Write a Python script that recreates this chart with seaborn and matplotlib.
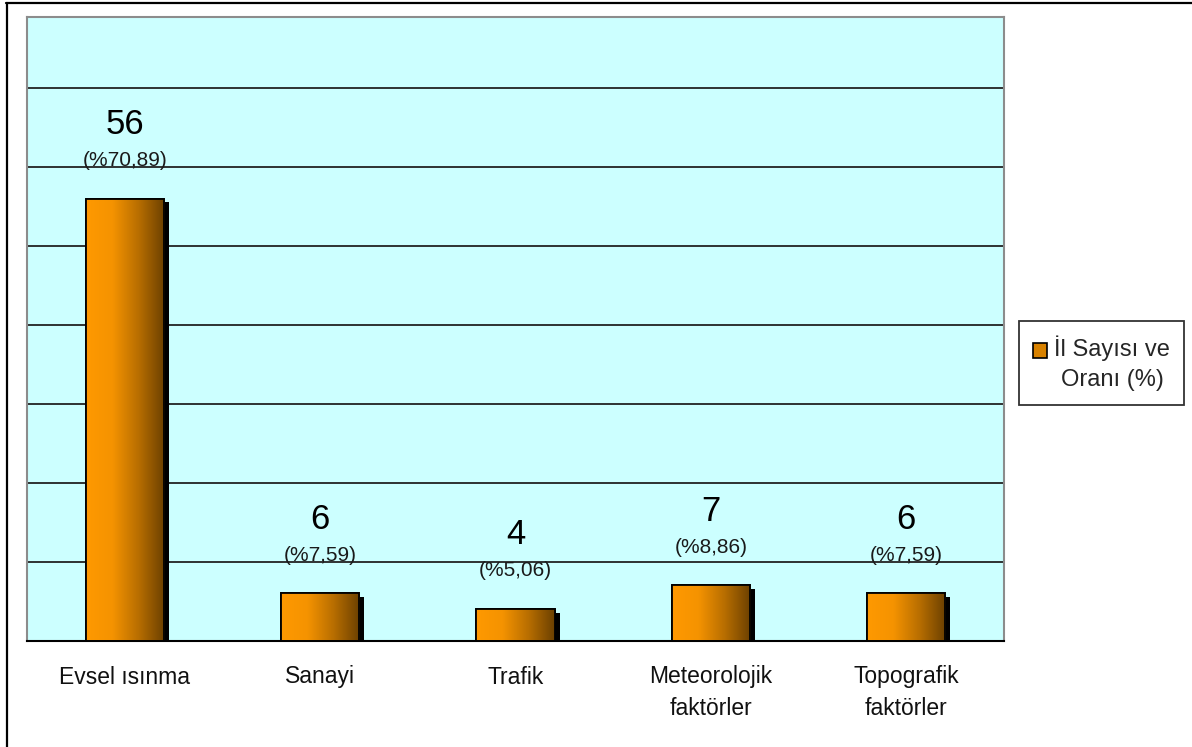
import numpy as np
import matplotlib
matplotlib.use("Agg")
import matplotlib.pyplot as plt
import matplotlib.patheffects as pe
from matplotlib.colors import LinearSegmentedColormap
from matplotlib.patches import Patch, Rectangle
from matplotlib.lines import Line2D
from matplotlib.legend_handler import HandlerPatch
import seaborn as sns

# data
categories = ["Evsel ısınma", "Sanayi", "Trafik", "Meteorolojik\nfaktörler", "Topografik\nfaktörler"]
counts = [56, 6, 4, 7, 6]
percents = [70.89, 7.59, 5.06, 8.86, 7.59]
legend_label = "İl Sayısı ve\nOranı (%)"

sns.set_style("white")
plt.rcParams["font.family"] = ["Liberation Sans", "DejaVu Sans"]

W, H = 1192, 747
fig = plt.figure(figsize=(W / 100, H / 100), dpi=100)
ax = fig.add_axes([27 / W, 1 - 640.5 / H, (1004 - 27) / W, (640.5 - 17) / H])

sns.barplot(x=categories, y=counts, color="#FF9900", width=0.4, ax=ax,
            edgecolor="black", linewidth=1.3, zorder=3)

ax.set_facecolor("#CCFFFF")

# gradient fill on each bar plus a hard black drop shadow
cmap = LinearSegmentedColormap.from_list("bar", ["#FF9900", "#F59300", "#B86E00", "#6B4000"])
grad = np.linspace(0, 1, 256).reshape(1, -1)
for p in ax.patches:
    p.set_path_effects([pe.SimplePatchShadow(offset=(3.6, -2.8), shadow_rgbFace="black", alpha=1.0),
                        pe.Normal()])
    x0, y0 = p.get_x(), p.get_y()
    x1, y1 = x0 + p.get_width(), y0 + p.get_height()
    im = ax.imshow(grad, extent=[x0, x1, y0, y1], aspect="auto", cmap=cmap, zorder=3.5)
    im.set_clip_path(p)
    ax.add_patch(Rectangle((x0, y0), p.get_width(), p.get_height(), fill=False,
                           edgecolor="black", linewidth=1.3, zorder=4))
ax.set_xlim(-0.5, 4.5)
ax.set_ylim(0, 79)

# value and percentage labels
for i, (c, pc) in enumerate(zip(counts, percents)):
    ax.annotate(str(c), xy=(i, c), xytext=(0, 46.5), textcoords="offset points",
                ha="center", va="baseline", fontsize=25, color="black", zorder=5)
    ax.annotate(("(%" + f"{pc:.2f}" + ")").replace(".", ","), xy=(i, c), xytext=(0, 23.5),
                textcoords="offset points", ha="center", va="baseline", fontsize=15,
                color="#1a1a1a", zorder=5)

# gridlines
ax.set_yticks(np.arange(0, 71, 10))
ax.set_yticklabels([])
ax.tick_params(axis="y", length=0)
ax.yaxis.grid(True, color="#222222", linewidth=1.3)
ax.set_axisbelow(True)

# category boundaries as ticks, labels in between
ax.set_xticks(np.arange(-0.5, 5, 1))
ax.set_xticklabels([])
ax.tick_params(axis="x", which="major", length=6.5, width=1.0, color="black", direction="out")
ax.set_xticks(range(len(categories)), minor=True)
ax.set_xticklabels(categories, minor=True, fontsize=16.5, color="#111111", linespacing=1.45)
ax.tick_params(axis="x", which="minor", length=0, pad=18)
ax.set_xlabel("")
ax.set_ylabel("")

for s in ["left", "top", "right"]:
    ax.spines[s].set_color("#8c8c8c")
    ax.spines[s].set_linewidth(1.5)
ax.spines["bottom"].set_color("black")
ax.spines["bottom"].set_linewidth(1.5)


# legend: swatch sits beside the first line of the label
def top_swatch(legend, orig_handle, xdescent, ydescent, width, height, fontsize):
    return Rectangle((-xdescent, -ydescent + 0.55 * fontsize), width, height)


handle = Patch(facecolor="#D98200", edgecolor="black", linewidth=1.2)
leg = fig.legend([handle], [legend_label], loc="center", bbox_to_anchor=(1101.5 / W, 1 - 363 / H),
                 fontsize=17, frameon=True, fancybox=False, handlelength=0.6, handleheight=0.6,
                 handletextpad=0.3, borderpad=0.6, borderaxespad=0,
                 handler_map={Patch: HandlerPatch(patch_func=top_swatch)})
leg.get_frame().set_edgecolor("black")
leg.get_frame().set_linewidth(1.3)
leg.get_texts()[0].set_multialignment("center")
leg.get_texts()[0].set_linespacing(1.45)

# outer chart border (top and left visible)
fig.add_artist(Line2D([6 / W, 1], [1 - 3 / H, 1 - 3 / H], color="black", linewidth=1.6))
fig.add_artist(Line2D([7 / W, 7 / W], [0, 1 - 3 / H], color="black", linewidth=1.6))

fig.savefig("out.png", dpi=100)
